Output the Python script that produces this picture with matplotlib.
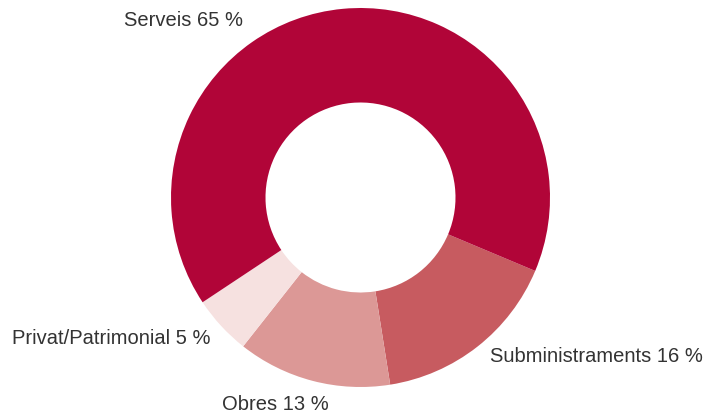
import matplotlib.pyplot as plt

categories = ["Subministraments", "Obres", "Privat/Patrimonial", "Serveis"]
shares = [16, 13, 5, 65]
colors = ["#c75b60", "#dc9896", "#f6e1e0", "#b10538"]

# label anchors in pixel space (x, y from top), alignment
label_pos = {
    "Serveis": (124, 20, "left"),
    "Subministraments": (490, 357, "left"),
    "Obres": (222, 405, "left"),
    "Privat/Patrimonial": (12, 338, "left"),
}

W, H = 711, 416
fig = plt.figure(figsize=(W / 100, H / 100), dpi=100)
ax = fig.add_axes([0, 0, 1, 1])

ax.pie(
    shares,
    colors=colors,
    startangle=-22.8,
    counterclock=False,
    center=(360.5, H - 197.5),
    radius=189.5,
    wedgeprops=dict(width=94.5, linewidth=0),
)
ax.set_xlim(0, W)
ax.set_ylim(0, H)
ax.set_aspect("equal")
ax.axis("off")

for name, val in zip(categories, shares):
    x, y, ha = label_pos[name]
    ax.text(x, H - y, f"{name} {val} %", ha=ha, va="center",
            fontsize=14.5, color="#333333", family="Liberation Sans")

fig.savefig("out.png", dpi=100)
